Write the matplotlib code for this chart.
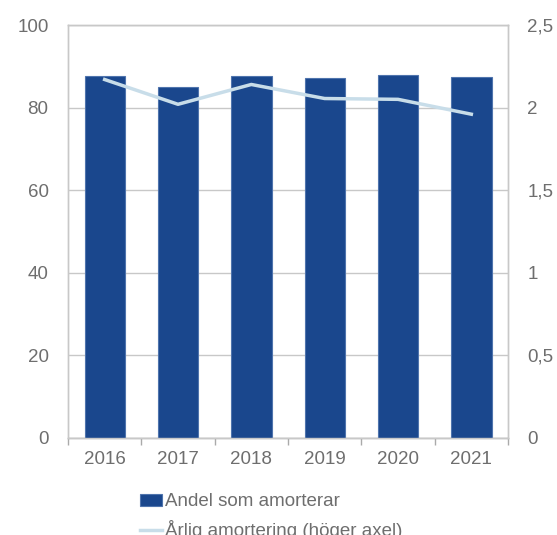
import matplotlib.pyplot as plt
import numpy as np
from matplotlib.ticker import FixedLocator, FuncFormatter

plt.rcParams['font.family'] = ['Liberation Sans', 'DejaVu Sans']

years = ['2016', '2017', '2018', '2019', '2020', '2021']
andel = [87.6, 85.1, 87.6, 87.2, 87.8, 87.4]
amortering = [2.17, 2.02, 2.14, 2.055, 2.05, 1.96]

bar_col = '#1a478d'
line_col = '#c8dde9'
grid_col = '#c8c8c8'
txt_col = '#6e6e6e'

fig = plt.figure(figsize=(5.57, 5.35), dpi=100)
ax = fig.add_axes([68/557, 1 - 438/535, 440/557, 413/535])
ax2 = ax.twinx()

x = np.arange(len(years))
bars = ax.bar(x, andel, width=0.55, color=bar_col, edgecolor='#4f74ad',
              linewidth=0.8, zorder=3, label='Andel som amorterar')
ln, = ax2.plot(x, amortering, color=line_col, linewidth=2.5, zorder=4,
               label='Årlig amortering (höger axel)')

ax.set_xlim(-0.5, len(years) - 0.5)
ax.set_ylim(0, 100)
ax2.set_ylim(0, 2.5)
ax.set_yticks(np.arange(0, 101, 20))
ax2.set_yticks(np.arange(0, 2.51, 0.5))
ax2.yaxis.set_major_formatter(FuncFormatter(
    lambda v, p: ('%g' % v).replace('.', ',')))

ax.set_xticks(x)
ax.set_xticklabels(years)
ax.xaxis.set_minor_locator(FixedLocator(np.arange(-0.5, len(years), 1)))
ax.tick_params(axis='x', which='major', length=0, pad=9,
               labelsize=13.5, colors=txt_col)
ax.tick_params(axis='x', which='minor', length=5, color='#aaaaaa', width=1)
ax.tick_params(axis='y', length=0, pad=14, labelsize=13.5, colors=txt_col)
ax2.tick_params(axis='y', length=0, pad=14, labelsize=13.5, colors=txt_col)

ax.yaxis.grid(True, color=grid_col, linewidth=1, zorder=0)
ax.set_axisbelow(True)
for a in (ax, ax2):
    for s in a.spines.values():
        s.set_color(grid_col)
        s.set_linewidth(1)
ax.spines['bottom'].set_color('#aaaaaa')

fig.legend(handles=[bars, ln], loc='upper left',
           bbox_to_anchor=(132/557, 1 - 486/535), frameon=False,
           fontsize=13.5, handlelength=1.2, handleheight=0.6,
           handletextpad=0.15, labelspacing=0.5, borderaxespad=0,
           labelcolor=txt_col)

fig.savefig('out.png', dpi=100)
